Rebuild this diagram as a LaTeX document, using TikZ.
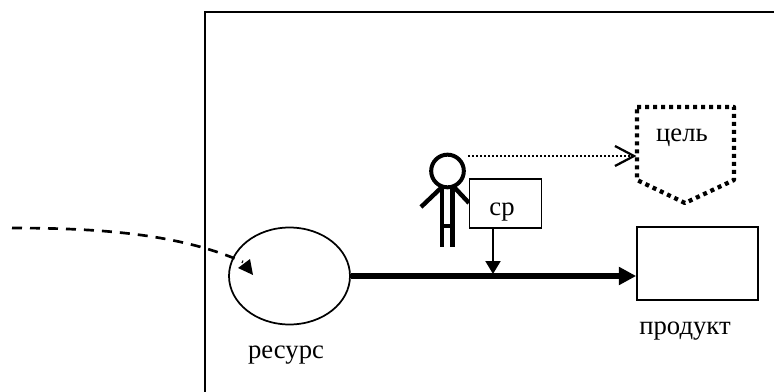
\documentclass[tikz,border=0pt]{standalone}
\usepackage{fontspec}
\setmainfont{Liberation Serif}
\usetikzlibrary{arrows.meta,shapes.geometric}
\tikzset{
  lbl/.style={inner sep=0pt,font=\fontsize{20}{24}\selectfont,anchor=base},
  thin line/.style={line width=1.3pt},
  person/.style={line width=3.3pt},
  tri/.style={-{Triangle[length=9.75pt,width=11.25pt]}}
}
\begin{document}
\begin{tikzpicture}[x=0.75pt,y=-0.75pt]
\useasboundingbox (0,0) rectangle (774,392);
% frame
\coordinate (fa) at (205,392);
\coordinate (fb) at (205,12);
\coordinate (fc) at (774,12);
\draw[line width=1.4pt,line join=miter] (fa) -- (fb) -- (fc);
% dashed inflow
\coordinate (src) at (12,228);
\coordinate (snk) at (243,262);
\coordinate (ta) at (250,259);
\coordinate (tb) at (238,268);
\coordinate (tc) at (253,275);
% nodes
\node[draw,thin line,ellipse,inner sep=0pt,minimum width=90.75pt,minimum height=72.75pt] (res) at (289.5,276) {};
\node[draw,thin line,inner sep=0pt,minimum width=90.75pt,minimum height=54.75pt] (prod) at (697.5,263.5) {};
\node[lbl] (lres) at (286,358) {ресурс};
\node[lbl] (lprod) at (685,334) {продукт};
\node[lbl] (lgoal) at (682,142) {цель};
% goal
\coordinate (ga) at (637,107);
\coordinate (gb) at (734,107);
\coordinate (gc) at (734,180);
\coordinate (gd) at (685,203);
\coordinate (ge) at (637,180);
\coordinate (gw) at (634,156);
\draw[line width=3.2pt,dash pattern=on 3pt off 3pt,line join=round] (ga) -- (gb) -- (gc) -- (gd) -- (ge) -- cycle;
% person
\coordinate (hd) at (447.5,171);
\coordinate (bl) at (442,186);
\coordinate (bla) at (442,247);
\coordinate (br) at (452.5,186);
\coordinate (brb) at (452.5,247);
\coordinate (cl) at (442,226);
\coordinate (cr) at (452.5,226);
\coordinate (al) at (421,207);
\coordinate (ar) at (469,203);
\coordinate (as) at (442,187);
\coordinate (at2) at (454,187);
\draw[person] (bl) -- (bla);
\draw[person] (br) -- (brb);
\draw[person] (cl) -- (cr);
\draw[person] (as) -- (al);
\draw[person] (at2) -- (ar);
\node[draw,line width=3pt,circle,fill=white,inner sep=0pt,minimum size=24.5pt] (head) at (hd) {};
% cp box, over the figure's arm
\node[draw,thin line,fill=white,inner sep=0pt,minimum width=54pt,minimum height=36.75pt] (cp) at (505.5,203.5) {};
\node[lbl] at (502,215) {ср};
% connectors
\coordinate (dots) at (468,156);
\draw[line width=1.5pt,dash pattern=on 1.5pt off 1.5pt] (dots) -- (gw);
\coordinate (hu) at (615,146);
\coordinate (hl) at (615,166);
\draw[line width=1.7pt] (hu) -- (gw) -- (hl);
\draw[line width=4.6pt,-{Triangle[length=13pt,width=13pt,sep=0pt]}] (res.east) -- (res.east -| prod.west);
\coordinate (cpb) at (493,228);
\coordinate (onl) at (493,274);
\draw[line width=1.5pt,tri] (cpb) -- (onl);
\draw[line width=2pt,dash pattern=on 7.5pt off 6pt] (src) .. controls (100,228) and (180,234) .. (snk);
\fill (ta) -- (tb) -- (tc) -- cycle;
\end{tikzpicture}
\end{document}
